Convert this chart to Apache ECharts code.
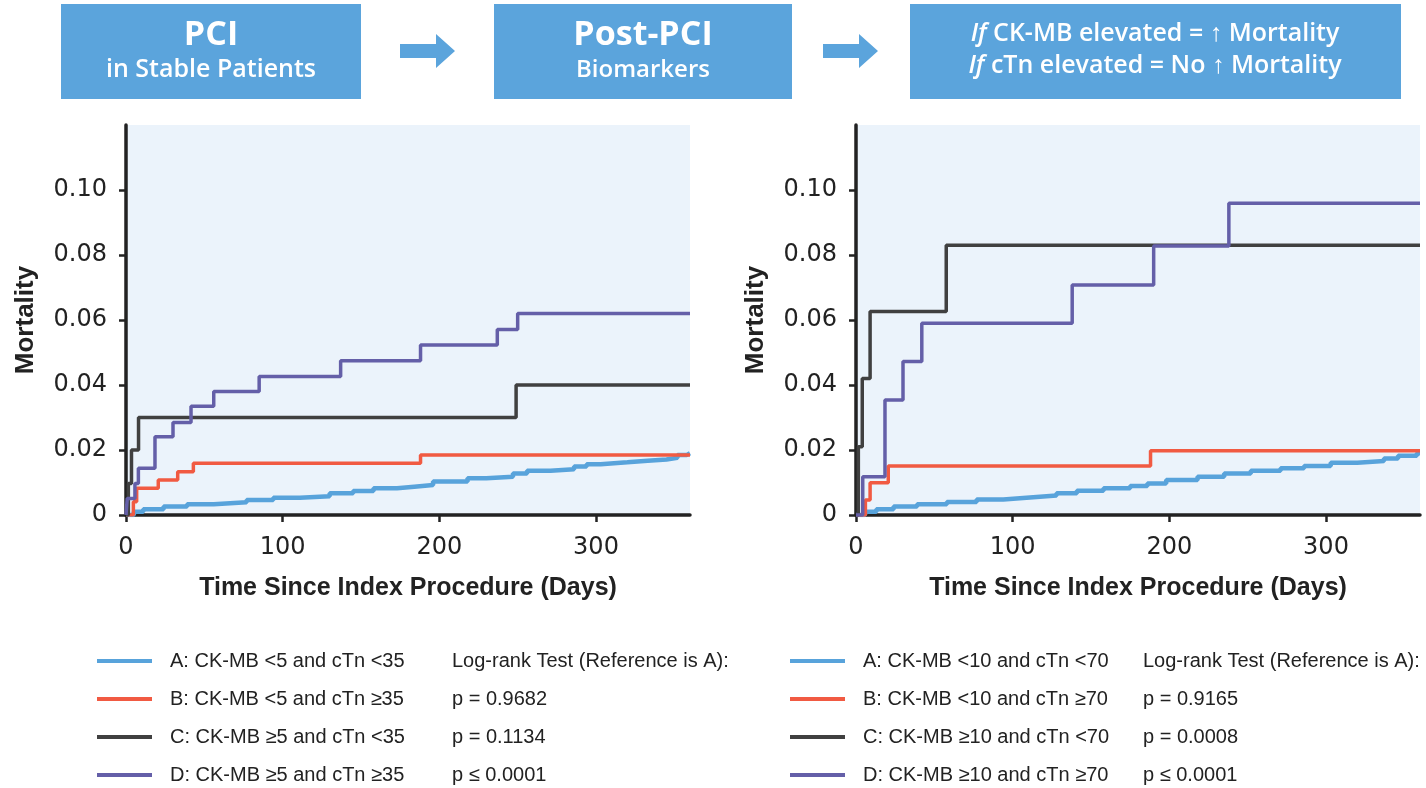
<!DOCTYPE html>
<html><head><meta charset="utf-8">
<script src="https://cdn.jsdelivr.net/npm/echarts@6/dist/echarts.min.js"></script>
<style>html,body{margin:0;padding:0;background:#fff}#c{width:1426px;height:788px}</style>
</head><body><div id="c"></div><script>
// ---------- data ----------
const xTicks = [0, 100, 200, 300];
const yTicks = [0, 0.02, 0.04, 0.06, 0.08, 0.10];

const namesLeft  = ['A: CK-MB <5 and cTn <35', 'B: CK-MB <5 and cTn \u226535', 'C: CK-MB \u22655 and cTn <35', 'D: CK-MB \u22655 and cTn \u226535'];
const namesRight = ['A: CK-MB <10 and cTn <70', 'B: CK-MB <10 and cTn \u226570', 'C: CK-MB \u226510 and cTn <70', 'D: CK-MB \u226510 and cTn \u226570'];
const pLeft  = ['Log-rank Test (Reference is A):', 'p = 0.9682', 'p = 0.1134', 'p \u2264 0.0001'];
const pRight = ['Log-rank Test (Reference is A):', 'p = 0.9165', 'p = 0.0008', 'p \u2264 0.0001'];

// Left panel (CK-MB 5 / cTn 35)
const aLeftDays = [0,5,11,24,39,56,77,94,111,130,145,158,173,184,196,218,230,247,256,271,286,294,303,320,333,345,352,358,360];
const aLeftVals = [0,0.001,0.0018,0.0026,0.0033,0.0039,0.0046,0.0053,0.0058,0.0067,0.0074,0.0082,0.0087,0.0092,0.0103,0.0113,0.0118,0.0128,0.0136,0.0141,0.0149,0.0156,0.0162,0.0167,0.0171,0.0176,0.0185,0.019,0.019];
const bLeftDays = [0,4.7,6.8,20.6,33,43,188,360];
const bLeftVals = [0,0.0041,0.0082,0.0108,0.0133,0.0159,0.0185,0.0185];
const cLeftDays = [0,1.5,3.5,8,249,360];
const cLeftVals = [0,0.0097,0.02,0.03,0.04,0.04];
const dLeftDays = [0,0.8,5.7,7.9,18.5,30,41.5,56,85,137,188,237,250,360];
const dLeftVals = [0,0.0051,0.0097,0.0144,0.0241,0.0285,0.0335,0.038,0.0426,0.0475,0.0523,0.0571,0.062,0.062];

// Right panel (CK-MB 10 / cTn 70)
const aRightDays = [0,5.7,13,24,39,58,77,94,111,128,141,158,175,186,198,218,235,252,271,286,303,320,337,346,358,360];
const aRightVals = [0,0.001,0.0018,0.0026,0.0033,0.004,0.0048,0.0054,0.006,0.0067,0.0075,0.0082,0.0089,0.0097,0.0108,0.0118,0.0128,0.0136,0.0144,0.0151,0.0161,0.0166,0.0174,0.0182,0.019,0.019];
const bRightDays = [0,6,9,20.6,188,360];
const bRightVals = [0,0.0046,0.0099,0.0151,0.0198,0.0198];
const cRightDays = [0,1.5,4,9,57.6,360];
const cRightVals = [0,0.021,0.042,0.0626,0.083,0.083];
const dRightDays = [0,4.3,18.5,30,42,138,190,238,360];
const dRightVals = [0,0.0118,0.0354,0.0472,0.059,0.0708,0.0828,0.0959,0.0959];

const colors = ['#58A3DB', '#F15A42', '#404040', '#645FA8'];
// ----------------------------------------------------

const zip = (d, v) => d.map((x, i) => [x, v[i]]);
const tickFont = "'DejaVu Sans', sans-serif";
const sans = "'Liberation Sans', sans-serif";
const boxBlue = '#5BA4DC';

function xAx(i) {
  return {
    type: 'value', gridIndex: i, min: 0, max: 360,
    name: 'Time Since Index Procedure (Days)', nameLocation: 'middle', nameGap: 61,
    nameTextStyle: { fontFamily: sans, fontWeight: 'bold', fontSize: 25, color: '#222' },
    axisLine: { lineStyle: { color: '#222', width: 3.5 } },
    axisTick: { show: true, length: 7, lineStyle: { color: '#222', width: 2.5 }, customValues: xTicks },
    axisLabel: { customValues: xTicks, margin: 21, fontFamily: tickFont, fontSize: 24, color: '#222' },
    splitLine: { show: false }
  };
}
function yAx(i) {
  return {
    type: 'value', gridIndex: i, min: 0, max: 0.12,
    name: 'Mortality', nameLocation: 'middle', nameRotate: 90, nameGap: 87,
    nameTextStyle: { fontFamily: sans, fontWeight: 'bold', fontSize: 26, color: '#222' },
    axisLine: { show: true, lineStyle: { color: '#222', width: 3.5 } },
    axisTick: { show: true, length: 7, lineStyle: { color: '#222', width: 2.5 }, customValues: yTicks },
    axisLabel: { customValues: yTicks, margin: 19, fontFamily: tickFont, fontSize: 24, color: '#222',
      formatter: v => v === 0 ? '0' : v.toFixed(2) },
    splitLine: { show: false }
  };
}
function ser(name, d, v, c, gi, w) {
  return { name, type: 'line', step: 'end', xAxisIndex: gi, yAxisIndex: gi, data: zip(d, v),
    showSymbol: false, symbol: 'none', color: c, lineStyle: { color: c, width: w }, animation: false };
}
function legend(names, left) {
  return { data: names, orient: 'vertical', left: left, top: 651, height: 160, padding: 0,
    itemWidth: 55, itemHeight: 4, icon: 'rect', itemGap: 18, selectedMode: false,
    textStyle: { fontFamily: sans, fontSize: 20, color: '#222', padding: [0, 0, 0, 13] } };
}
function pTexts(arr, x) {
  return arr.map((t, i) => ({ type: 'text', x: x, y: 661 + i * 38,
    style: { text: t, font: "20px " + sans, fill: '#222', verticalAlign: 'middle' } }));
}
function arrow(x0) {
  return { type: 'polygon', shape: { points: [[x0,44],[x0+36,44],[x0+36,34],[x0+55,51],[x0+36,68],[x0+36,58],[x0,58]] },
    style: { fill: boxBlue } };
}
const ob = "'Open Sans', sans-serif";
const richI = { i: { fontStyle: 'italic', fontFamily: "'Open Sans', sans-serif", fontWeight: 600, fontSize: 25, fill: '#fff' } };
const option = {
  backgroundColor: '#fff',
  animation: false,
  grid: [
    { left: 126, top: 125, width: 564, height: 390, show: true, backgroundColor: '#EBF3FB', borderWidth: 0 },
    { left: 856, top: 125, width: 564, height: 390, show: true, backgroundColor: '#EBF3FB', borderWidth: 0 }
  ],
  xAxis: [xAx(0), xAx(1)],
  yAxis: [yAx(0), yAx(1)],
  legend: [legend(namesLeft, 97), legend(namesRight, 790)],
  series: [
    ser(namesLeft[0], aLeftDays, aLeftVals, colors[0], 0, 4.5),
    ser(namesLeft[1], bLeftDays, bLeftVals, colors[1], 0, 3.5),
    ser(namesLeft[2], cLeftDays, cLeftVals, colors[2], 0, 3.5),
    ser(namesLeft[3], dLeftDays, dLeftVals, colors[3], 0, 3.5),
    ser(namesRight[0], aRightDays, aRightVals, colors[0], 1, 4.5),
    ser(namesRight[1], bRightDays, bRightVals, colors[1], 1, 3.5),
    ser(namesRight[2], cRightDays, cRightVals, colors[2], 1, 3.5),
    ser(namesRight[3], dRightDays, dRightVals, colors[3], 1, 3.5)
  ],
  graphic: [
    { type: 'rect', shape: { x: 61, y: 4, width: 300, height: 95 }, style: { fill: boxBlue } },
    { type: 'rect', shape: { x: 494, y: 4, width: 298, height: 95 }, style: { fill: boxBlue } },
    { type: 'rect', shape: { x: 910, y: 4, width: 491, height: 95 }, style: { fill: boxBlue } },
    arrow(400), arrow(823),
    { type: 'text', x: 211, y: 35, style: { text: 'PCI', font: "bold 34px " + ob, fill: '#fff', align: 'center', verticalAlign: 'middle' } },
    { type: 'text', x: 211, y: 70, style: { text: 'in Stable Patients', font: "600 25px " + ob, fill: '#fff', align: 'center', verticalAlign: 'middle' } },
    { type: 'text', x: 643, y: 35, style: { text: 'Post-PCI', font: "bold 34px " + ob, fill: '#fff', align: 'center', verticalAlign: 'middle' } },
    { type: 'text', x: 643, y: 70, style: { text: 'Biomarkers', font: "600 24px " + ob, fill: '#fff', align: 'center', verticalAlign: 'middle' } },
    { type: 'text', x: 1155, y: 34, style: { text: '{i|If} CK-MB elevated = \u2191 Mortality', font: "600 25px " + ob, fill: '#fff', align: 'center', verticalAlign: 'middle', rich: richI } },
    { type: 'text', x: 1155, y: 66, style: { text: '{i|If} cTn elevated = No \u2191 Mortality', font: "600 25px " + ob, fill: '#fff', align: 'center', verticalAlign: 'middle', rich: richI } },
    ...pTexts(pLeft, 452),
    ...pTexts(pRight, 1143)
  ]
};
const chart = echarts.init(document.getElementById('c'), null, { renderer: 'canvas' });
chart.setOption(option);
</script></body></html>
